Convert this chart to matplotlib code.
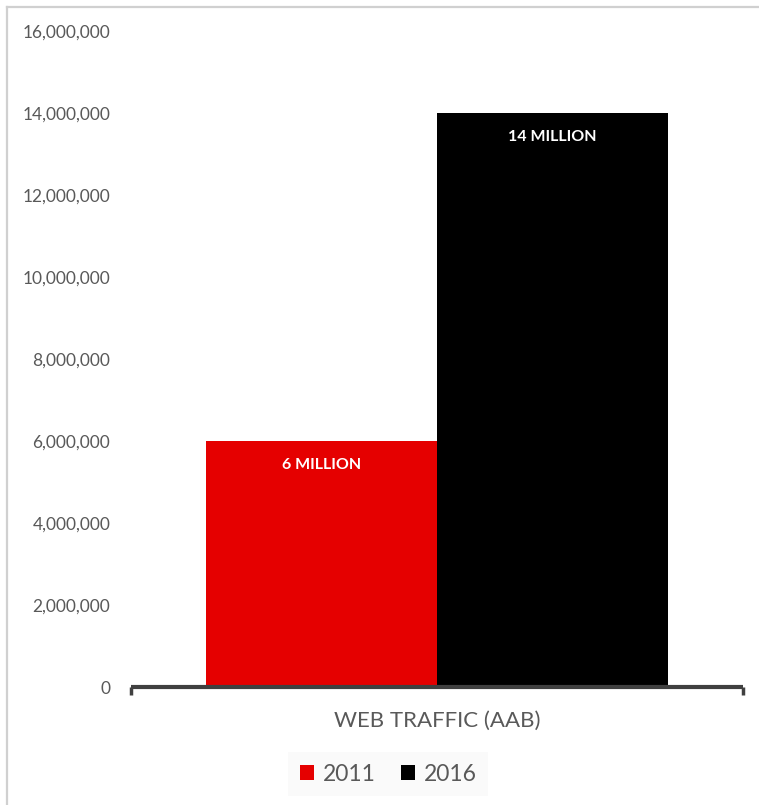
import matplotlib
matplotlib.use("Agg")
import matplotlib.pyplot as plt
from matplotlib.lines import Line2D
from matplotlib.patches import Patch
from matplotlib.ticker import FuncFormatter, MultipleLocator

category = "WEB TRAFFIC (AAB)"
years = ["2011", "2016"]
traffic = [6_000_000, 14_000_000]
colors = ["#e50000", "#000000"]

plt.rcParams["font.family"] = ["Lato", "DejaVu Sans"]

fig = plt.figure(figsize=(7.59, 8.05), dpi=100)
ax = fig.add_axes([131 / 759, 1 - 687 / 805, (743 - 131) / 759, (687 - 31) / 805])

# chart border (top and left edges)
fig.add_artist(Line2D([7 / 759, 7 / 759], [0, 1 - 7 / 805], transform=fig.transFigure,
                      color="#d0d0d0", lw=1.6))
fig.add_artist(Line2D([7 / 759, 1], [1 - 7 / 805, 1 - 7 / 805], transform=fig.transFigure,
                      color="#d0d0d0", lw=1.6))

width = 0.377
offsets = [-width / 2, width / 2]
for yr, val, col, off in zip(years, traffic, colors, offsets):
    ax.bar(off, val, width=width, color=col, edgecolor="none", label=yr)
    ax.annotate(f"{val / 1e6:.0f} MILLION", xy=(off, val), xytext=(0, -17),
                textcoords="offset points", ha="center", va="center",
                color="white", fontsize=11.5, fontweight="bold")

ax.set_xlim(-0.5, 0.5)
ax.set_ylim(0, 16_000_000)
ax.yaxis.set_major_locator(MultipleLocator(2_000_000))
ax.yaxis.set_major_formatter(FuncFormatter(lambda v, p: f"{v:,.0f}"))

for s in ["top", "right", "left"]:
    ax.spines[s].set_visible(False)
ax.spines["bottom"].set_color("#404040")
ax.spines["bottom"].set_linewidth(3)
ax.spines["bottom"].set_capstyle("butt")

ax.set_xticks([-0.5, 0.5])
ax.set_xticklabels([])
ax.tick_params(axis="x", direction="out", length=6, width=2.5, color="#404040")
ax.tick_params(axis="y", length=0, pad=15, labelsize=12.5, labelcolor="#595959")

ax.set_xlabel(category, fontsize=16, color="#595959", labelpad=8)

handles = [Patch(facecolor=c, edgecolor="none") for c in colors]
leg = fig.legend(handles, years, loc="center", bbox_to_anchor=(388 / 759, 1 - 774 / 805),
                 ncol=2, frameon=True, fontsize=16.5, labelcolor="#595959",
                 handlelength=0.65, handleheight=0.65, handletextpad=0.35,
                 columnspacing=1.1, borderpad=0.5, fancybox=False)
leg.get_frame().set_facecolor("#f9f9f9")
leg.get_frame().set_edgecolor("none")

fig.savefig("out.png", dpi=100, facecolor="white")
